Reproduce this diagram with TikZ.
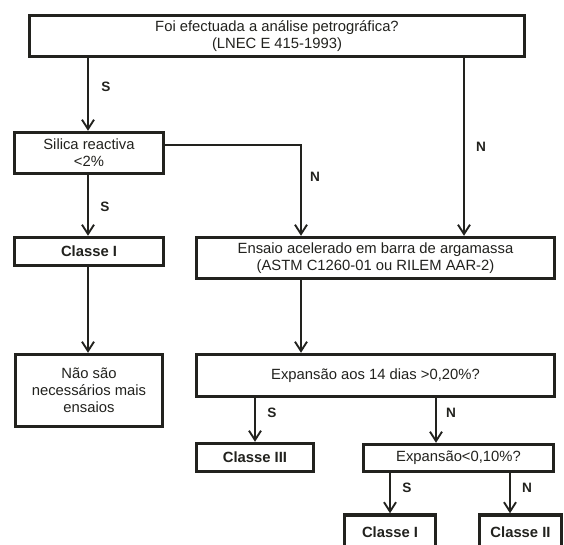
\documentclass[tikz,border=0pt]{standalone}
\usepackage{fontspec}
\setmainfont{Liberation Sans}
\usetikzlibrary{arrows.meta}
\definecolor{ink}{RGB}{34,34,30}
\begin{document}
\begin{tikzpicture}[x=0.75pt,y=-0.75pt,
  box/.style={draw=ink, line width=2.6pt, fill=white, inner sep=0pt, align=center, text=ink,
    font=\fontsize{11.1}{12.6}\selectfont},
  bbox/.style={box, font=\fontsize{11.1}{12.6}\selectfont\bfseries},
  lnk/.style={draw=ink, line width=1.4pt},
  arr/.style={lnk, -{Straight Barb[length=7pt,width=9pt]}},
  lab/.style={text=ink, font=\fontsize{10.2}{12}\selectfont\bfseries, inner sep=0pt}]
\fill[white] (0,0) rectangle (564,544);
\useasboundingbox (0,0) rectangle (564,544);
\clip (0,0) rectangle (564,544);

% boxes
\node[box, minimum width=371.25pt, minimum height=30.75pt] (top) at (277,36)
  {Foi efectuada a análise petrográfica?\\(LNEC E 415-1993)};
\node[box, minimum width=111.75pt, minimum height=30.75pt] (silica) at (89,153)
  {Silica reactiva\\<2\%};
\node[bbox, minimum width=111.75pt, minimum height=21pt] (classeIa) at (89,251.5) {Classe I};
\node[box, minimum width=110.25pt, minimum height=54pt] (nao) at (89,390.5)
  {Não são\\necessários mais\\ensaios};
\node[box, minimum width=268.5pt, minimum height=30.75pt] (ensaio) at (375.5,258)
  {Ensaio acelerado em barra de argamassa\\(ASTM C1260-01 ou RILEM AAR-2)};
\node[box, minimum width=268.5pt, minimum height=31.5pt] (exp14) at (375.5,375.5)
  {Expansão aos 14 dias >0,20\%?};
\node[bbox, minimum width=87.75pt, minimum height=21pt] (classeIII) at (255,457.5) {Classe III};
\node[box, minimum width=142.5pt, minimum height=20.25pt] (exp10) at (458.5,458)
  {Expansão<0,10\%?};
\node[bbox, minimum width=68.25pt, minimum height=25.5pt] (classeIb) at (390,532) {Classe I};
\node[bbox, minimum width=61.5pt, minimum height=25.5pt] (classeII) at (520.5,532) {Classe II};

% helper coordinates for connector columns/rows
\coordinate (cL) at (88,0);
\coordinate (cN) at (464,0);
\coordinate (cM) at (301,0);
\coordinate (cRow) at (0,145);
\coordinate (cX) at (436,0);
\coordinate (cIb) at (390,0);
\coordinate (cII) at (510,0);

% connectors
\draw[arr] (top.south -| cL) -- (silica.north -| cL);
\draw[arr] (top.south -| cN) -- (ensaio.north -| cN);
\draw[arr] (silica.east |- cRow) -- (cM |- cRow) -- (ensaio.north -| cM);
\draw[arr] (silica.south -| cL) -- (classeIa.north -| cL);
\draw[arr] (classeIa.south -| cL) -- (nao.north -| cL);
\draw[arr] (ensaio.south -| cM) -- (exp14.north -| cM);
\draw[arr] (exp14.south -| classeIII) -- (classeIII.north);
\draw[arr] (exp14.south -| cX) -- (exp10.north -| cX);
\draw[arr] (exp10.south -| cIb) -- (classeIb.north -| cIb);
\draw[arr] (exp10.south -| cII) -- (classeII.north -| cII);

% labels
\node[lab] (s1) at (106,87) {S};
\node[lab] (n1) at (481,147) {N};
\node[lab] (n2) at (315,177) {N};
\node[lab] (s2) at (105,207) {S};
\node[lab] (s3) at (272,413) {S};
\node[lab] (n3) at (451,413) {N};
\node[lab] (s4) at (407,488) {S};
\node[lab] (n4) at (527,488) {N};
\end{tikzpicture}
\end{document}
